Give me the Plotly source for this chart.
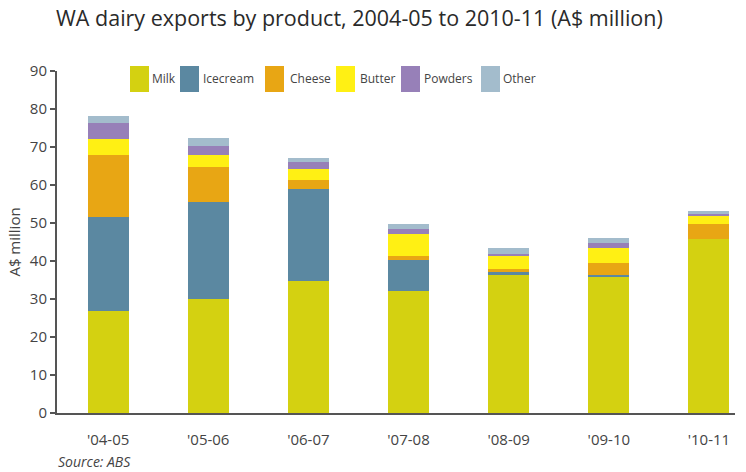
import plotly.graph_objects as go

# WA dairy exports by product (A$ million)
years = ["'04-05", "'05-06", "'06-07", "'07-08", "'08-09", "'09-10", "'10-11"]
milk = [26.9, 30.0, 34.8, 32.1, 36.3, 35.8, 45.8]
icecream = [24.7, 25.5, 24.1, 8.2, 0.8, 0.5, 0.0]
cheese = [16.3, 9.2, 2.4, 1.0, 0.8, 3.2, 3.9]
butter = [4.2, 3.2, 2.9, 5.8, 3.4, 3.9, 2.1]
powders = [4.2, 2.3, 1.8, 1.3, 0.6, 1.3, 0.6]
other = [1.8, 2.1, 1.1, 1.3, 1.5, 1.4, 0.8]

series_names = ["Milk", "Icecream", "Cheese", "Butter", "Powders", "Other"]
series_values = [milk, icecream, cheese, butter, powders, other]
colors = ["#d4d111", "#5b88a1", "#e8a614", "#fff014", "#9780b8", "#a3bccc"]

FONT = "Open Sans"
TEXT = "#444444"

fig = go.Figure()
for name, vals, col in zip(series_names, series_values, colors):
    fig.add_trace(go.Bar(
        x=list(range(len(years))), y=vals, name=name,
        marker=dict(color=col, line=dict(width=0)),
        width=0.41, showlegend=False,
    ))

# Legend row drawn as swatches + labels across the top of the plot
swatch_left = [130, 180, 265, 336, 401, 481]   # pixel left edges of swatches
label_left = [152, 203, 290, 360, 424, 503]    # pixel left edges of labels
plot_l, plot_r, plot_t, plot_b = 57, 735, 71, 413
pw, ph = plot_r - plot_l, plot_b - plot_t
shapes = []
annotations = []
for name, col, sx, tx in zip(series_names, colors, swatch_left, label_left):
    shapes.append(dict(type="rect", xref="paper", yref="paper",
                       x0=(sx - plot_l) / pw, x1=(sx + 19 - plot_l) / pw,
                       y0=(plot_b - 92) / ph, y1=(plot_b - 66) / ph,
                       fillcolor=col, line=dict(width=0), layer="above"))
    annotations.append(dict(text=name, xref="paper", yref="paper",
                            x=(tx - 2 - plot_l) / pw, y=(plot_b - 78) / ph,
                            xanchor="left", yanchor="middle", showarrow=False,
                            font=dict(family=FONT, size=12, color=TEXT)))

annotations.append(dict(text="<i>Source: ABS</i>", xref="paper", yref="paper",
                        x=(56 - plot_l) / pw, y=-(461 - plot_b) / ph,
                        xanchor="left", yanchor="middle", showarrow=False,
                        font=dict(family=FONT, size=14, color=TEXT)))

fig.update_layout(
    width=746, height=472,
    margin=dict(l=plot_l, r=746 - plot_r, t=plot_t, b=472 - plot_b),
    paper_bgcolor="white", plot_bgcolor="white",
    barmode="stack", bargap=0.59,
    title=dict(text="WA dairy exports by product, 2004-05 to 2010-11 (A$ million)",
               x=56 / 746, xanchor="left", y=1 - 18 / 472, yanchor="middle",
               font=dict(family=FONT, size=21.5, color="#2a2a2a")),
    shapes=shapes, annotations=annotations,
    xaxis=dict(tickmode="array", tickvals=list(range(len(years))), ticktext=years,
               range=[-0.51, 6.26], showline=True, linecolor="#555555", linewidth=2,
               ticks="", showgrid=False, zeroline=False, ticklabelstandoff=12,
               tickfont=dict(family=FONT, size=15, color=TEXT)),
    yaxis=dict(range=[0, 90], dtick=10, showline=True, linecolor="#555555", linewidth=2,
               ticks="outside", ticklen=5, tickcolor="#555555", tickwidth=1.5,
               showgrid=False, zeroline=False,
               tickfont=dict(family=FONT, size=15, color=TEXT),
               title=dict(text="A$ million", standoff=6,
                          font=dict(family=FONT, size=15, color=TEXT))),
)

fig.write_html("out.html")
